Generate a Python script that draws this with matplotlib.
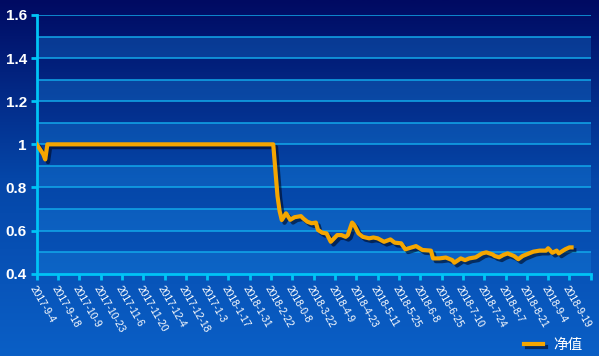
import numpy as np
import matplotlib
matplotlib.use("Agg")
import matplotlib.pyplot as plt
import matplotlib.patheffects as pe
from matplotlib.colors import LinearSegmentedColormap

plt.rcParams['font.family'] = ['Liberation Sans', 'Noto Sans CJK SC', 'DejaVu Sans']

# trading-day number (from 2017-9-4) and net value
day_no = [0, 1, 2, 3, 4, 5, 111, 112, 113, 114, 115, 117, 119, 121, 124, 125, 127, 129,
          131, 132, 134, 136, 138, 141, 143, 145, 146, 148, 149, 151, 153, 156, 158,
          160, 163, 166, 168, 171, 173, 176, 178, 181, 185, 186, 189, 192, 195, 196,
          199, 201, 203, 206, 209, 211, 214, 215, 217, 219, 221, 224, 226, 228, 231,
          233, 236, 239, 240, 242, 244, 245, 247, 248, 250, 251]
nav = [1.0, 0.985, 0.97, 0.955, 0.93, 1.0, 1.0, 0.88, 0.76, 0.69, 0.649, 0.68, 0.65,
       0.662, 0.667, 0.657, 0.641, 0.634, 0.637, 0.603, 0.59, 0.587, 0.548, 0.579,
       0.579, 0.571, 0.579, 0.637, 0.626, 0.587, 0.571, 0.564, 0.568, 0.564, 0.548,
       0.559, 0.544, 0.541, 0.513, 0.522, 0.528, 0.51, 0.507, 0.471, 0.471, 0.475,
       0.463, 0.451, 0.471, 0.463, 0.471, 0.476, 0.494, 0.499, 0.489, 0.482, 0.476,
       0.487, 0.494, 0.482, 0.467, 0.482, 0.494, 0.502, 0.507, 0.507, 0.518, 0.497,
       0.507, 0.494, 0.507, 0.513, 0.522, 0.522]

tick_labels = ['2017-9-4', '2017-9-18', '2017-10-9', '2017-10-23', '2017-11-6',
               '2017-11-20', '2017-12-4', '2017-12-18', '2017-1-3', '2018-1-17',
               '2018-1-31', '2018-2-22', '2018-0-8', '2018-3-22', '2018-4-9',
               '2018-4-23', '2018-5-11', '2018-5-25', '2018-6-8', '2018-6-25',
               '2018-7-10', '2018-7-24', '2018-8-7', '2018-8-21', '2018-9-4',
               '2018-9-19', '']

fig = plt.figure(figsize=(5.99, 3.56), dpi=100)

# background gradient
bg = fig.add_axes([0, 0, 1, 1])
cmap = LinearSegmentedColormap.from_list('bg', ['#000a62', '#0546a8', '#0a5fc6'])
bg.imshow(np.linspace(0, 1, 256).reshape(-1, 1), aspect='auto', cmap=cmap,
          extent=[0, 1, 0, 1])
bg.axis('off')

ax = fig.add_axes([0.0613, 0.2312, 0.9249, 0.7267])
ax.patch.set_alpha(0)

# alternating bands
for lo in np.arange(0.4, 1.6, 0.2):
    ax.axhspan(lo, lo + 0.1, color='#1a8ce6', alpha=0.3, lw=0, zorder=0)
for g in np.arange(0.5, 1.61, 0.1):
    ax.axhline(g, color='#12a8ea', lw=1.1, zorder=1)

line, = ax.plot(day_no, nav, color='#f5a600', lw=3.0, solid_joinstyle='round',
                label='净值', zorder=3,
                path_effects=[pe.SimpleLineShadow(offset=(2, -2), shadow_color='#000820',
                                                  alpha=0.6), pe.Normal()])

ax.set_xlim(0, 260)
ax.set_ylim(0.4, 1.6)
ax.set_yticks([0.4, 0.6, 0.8, 1.0, 1.2, 1.4, 1.6])
ax.set_yticklabels(['0.4', '0.6', '0.8', '1', '1.2', '1.4', '1.6'],
                   color='white', fontsize=11, fontweight='bold')
ax.set_xticks(np.arange(0, 261, 10))
ax.set_xticklabels(tick_labels, rotation=-60, ha='left', va='top',
                   rotation_mode='anchor', color='white', fontsize=7.4)

for s in ['top', 'right']:
    ax.spines[s].set_visible(False)
for s in ['left', 'bottom']:
    ax.spines[s].set_color('#00c4f6')
    ax.spines[s].set_linewidth(2)
ax.tick_params(axis='both', colors='#00c4f6', width=2, length=4.5)
ax.tick_params(axis='y', labelcolor='white', pad=2.5)
ax.tick_params(axis='x', labelcolor='white', pad=3)

leg = fig.legend(handles=[line], loc='center right', bbox_to_anchor=(0.995, 0.03),
                 frameon=False, handlelength=1.3, handletextpad=0.7,
                 prop={'family': ['Noto Sans CJK SC'], 'size': 10.5})
for t in leg.get_texts():
    t.set_color('white')

fig.savefig('out.png', dpi=100)
